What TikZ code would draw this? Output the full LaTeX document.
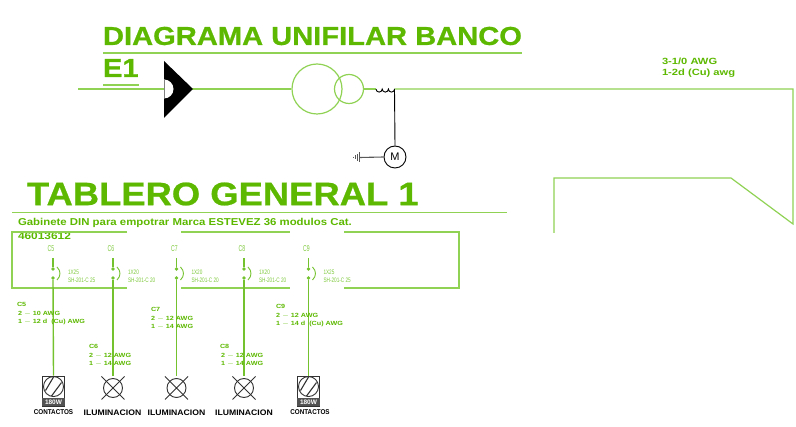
\documentclass[tikz,border=0pt]{standalone}
\usepackage{fontspec}
\setmainfont{Liberation Sans}
\newfontfamily\heavy{Liberation Sans}[BoldFeatures={FakeBold=0.7}]
\usepackage{graphicx}
\usetikzlibrary{calc}
\definecolor{txtgreen}{HTML}{5CB800}
\definecolor{linegreen}{HTML}{8FD254}
\definecolor{wiregreen}{HTML}{74C22E}
\definecolor{thingreen}{HTML}{7CC83A}
\definecolor{symgray}{HTML}{333333}
\newcommand{\fs}[1]{\fontsize{#1}{#1}\selectfont}
\newcommand{\narrow}[2]{\scalebox{#1}[1]{#2}}
\tikzset{
  x=1pt,y=-1pt,
  txt/.style={inner sep=0pt,outer sep=0pt,anchor=west,text=txtgreen,font=\bfseries},
  thin label/.style={inner sep=0pt,outer sep=0pt,anchor=west,text=thingreen,font=\fs{6.5}},
  rule/.style={draw=linegreen,line width=1.2pt},
  wire/.style={draw=wiregreen,line width=1.4pt},
  brk/.style={circle,fill=wiregreen,inner sep=0pt,minimum size=3.6pt},
  lamp/.style={circle,draw=symgray,line width=0.9pt,minimum size=19pt,inner sep=0pt,fill=white},
  caption/.style={inner sep=0pt,text=black,font=\bfseries},
  outlet/.style={draw=symgray,line width=0.9pt,fill=white,inner sep=0pt,minimum width=22pt,minimum height=30pt},
  note/.style={txt,font=\bfseries\fs{6}},
}
\newcommand{\lampx}[1]{\draw[symgray,line width=0.8pt] ($(#1)+(-11.5,-11.5)$) -- ($(#1)+(11.5,11.5)$) ($(#1)+(-11.5,11.5)$) -- ($(#1)+(11.5,-11.5)$);}
\newcommand{\outletsym}[2]{%
  \node[outlet] (#1) at (#2) {};
  \fill[symgray!85] ($(#1.south west)+(0,-8)$) rectangle (#1.south east);
  \node[inner sep=0pt,text=white,font=\bfseries\fs{6.5}] (#1w) at ($(#1.south)+(0,-4)$) {180W};
  \node[circle,draw=symgray,line width=0.9pt,minimum size=20pt,inner sep=0pt] (#1c) at ($(#1.north)+(0,11)$) {};
  \draw[symgray,line width=1.1pt] ($(#1c)+(-8,4)$) -- ($(#1c)+(0,-9.5)$) ($(#1c)+(-2,9.5)$) -- ($(#1c)+(8,-4)$);
}
\newcommand{\notetxt}[1]{\narrow{1.2}{#1}}
\begin{document}
\begin{tikzpicture}
\useasboundingbox (0,0) rectangle (796,427);
% titles
\node[txt,font=\heavy\bfseries\fs{26}] (title) at (103,36) {\narrow{1.12}{DIAGRAMA UNIFILAR BANCO}};
\coordinate (titleL) at (103,53); \coordinate (titleR) at (522,53);
\draw[rule] (titleL) -- (titleR);
\node[txt,font=\heavy\bfseries\fs{26}] (e1) at (103,68) {\narrow{1.12}{E1}};
\coordinate (e1L) at (103,85); \coordinate (e1R) at (139,85);
\draw[rule] (e1L) -- (e1R);
% top feeder
\coordinate (feedL) at (78,89);
\node[circle,draw=linegreen,line width=1.2pt,minimum size=50pt,inner sep=0pt] (tr1) at (317,89) {};
\node[circle,draw=linegreen,line width=1.2pt,minimum size=29pt,inner sep=0pt] (tr2) at (349,89) {};
\coordinate (coilL) at (376,89); \coordinate (coilR) at (394.5,89);
\coordinate (p1) at (793,89); \coordinate (p2) at (793,224); \coordinate (p3) at (731,178); \coordinate (p4) at (554,178); \coordinate (p5) at (554,233);
\draw[rule] (feedL) -- (tr1.west);
\draw[rule] (tr2.east) -- (coilL);
\draw[rule] (coilR) -- (p1) -- (p2) -- (p3) -- (p4) -- (p5);
% black fuse symbol
\fill[black] (164,61) -- (193,89) -- (164,118) -- cycle;
\fill[white] (164,79.5) arc (-90:90:9.5) -- cycle;
\draw[gray,line width=0.5pt] (164,79.5) -- (164,98.5);
% coil
\draw[black,line width=0.9pt] (coilL) arc (180:0:3.1) arc (180:0:3.1) arc (180:0:3.1);
% motor
\node[circle,draw=black,line width=0.9pt,minimum size=22pt,inner sep=0pt,font=\fs{11}] (motor) at (395,157) {M};
\draw[black,line width=0.9pt] (coilR) -- (motor.north);
\coordinate (gnd) at (360,157.5);
\draw[gray!70!black,line width=1.1pt] (motor.west) -- (gnd);
\draw[gray!70!black,line width=0.9pt] (359,152.5) -- (359,162.5) (357,154) -- (357,161) (355,155.5) -- (355,159.5) (353.5,157) -- (353.5,158);
% feeder text
\node[txt,font=\bfseries\fs{9}] (feedA) at (662,61) {\narrow{1.24}{3-1/0 AWG}};
\node[txt,font=\bfseries\fs{9}] (feedB) at (662,73) {\narrow{1.24}{1-2d (Cu) awg}};
% tablero
\node[txt,font=\heavy\bfseries\fs{32.5}] (tablero) at (27,194) {\narrow{1.12}{TABLERO GENERAL 1}};
\coordinate (tabL) at (12,212.5); \coordinate (tabR) at (507,212.5);
\draw[rule] (tabL) -- (tabR);
\node[txt,font=\bfseries\fs{10}] (gab) at (18,223) {\narrow{1.14}{Gabinete DIN para empotrar Marca ESTEVEZ 36 modulos Cat.}};
\node[txt,font=\bfseries\fs{10}] (gab2) at (18,236) {\narrow{1.19}{46013612}};
% cabinet outline
\coordinate (b1) at (127,232); \coordinate (b2) at (12,232); \coordinate (b3) at (12,288); \coordinate (b4) at (127,288);
\coordinate (b5) at (181,232); \coordinate (b6) at (290,232); \coordinate (b7) at (181,288); \coordinate (b8) at (290,288);
\coordinate (b9) at (344,232); \coordinate (b10) at (459,232); \coordinate (b11) at (459,288); \coordinate (b12) at (344,288);
\draw[rule] (b1) -- (b2) -- (b3) -- (b4);
\draw[rule] (b5) -- (b6) (b7) -- (b8);
\draw[rule] (b9) -- (b10) -- (b11) -- (b12);
% breakers + loads
\foreach \n/\X/\lab/\am in {a/53/C5/25,b/113/C6/20,c/176.5/C7/20,d/244/C8/20,e/308.5/C9/25}{
  \coordinate (\n t) at (\X,258);
  \node[brk] (\n u) at (\X,269) {};
  \node[brk] (\n d) at (\X,278) {};
  \draw[wire] (\n t) -- (\n u);
  \draw[draw=wiregreen,line width=0.9pt] (\X+4,267) .. controls (\X+8,271) and (\X+8,276) .. (\X+4,280);
  \node[text=thingreen,inner sep=0pt,font=\fs{8.5}] (\n name) at (\X-2,249) {\narrow{0.6}{\lab}};
  \node[thin label] (\n p) at (\X+15,272) {\narrow{0.72}{1X\am}};
  \node[thin label] (\n q) at (\X+15,280) {\narrow{0.72}{SH-201-C \am}};
}
\node[lamp] (lb) at (113,388) {}; \lampx{lb}
\node[lamp] (lc) at (176.5,388) {}; \lampx{lc}
\node[lamp] (ld) at (244,388) {}; \lampx{ld}
\outletsym{la}{53.5,391}
\outletsym{le}{308.5,391}
\draw[wire] (ad) -- (la.north);
\draw[wire] (bd) -- (113,376.5);
\draw[wire] (cd) -- (176.5,376.5);
\draw[wire] (dd) -- (244,376.5);
\draw[wire] (ed) -- (le.north);
% captions
\node[caption,font=\bfseries\fs{7}] (ca) at (53.5,412) {\narrow{0.9}{CONTACTOS}};
\node[caption,font=\bfseries\fs{8}] (cb) at (112.5,413) {\narrow{1.08}{ILUMINACION}};
\node[caption,font=\bfseries\fs{8}] (cc) at (176.5,413) {\narrow{1.08}{ILUMINACION}};
\node[caption,font=\bfseries\fs{8}] (cd2) at (244,412.5) {\narrow{1.08}{ILUMINACION}};
\node[caption,font=\bfseries\fs{7}] (ce) at (310,412) {\narrow{0.9}{CONTACTOS}};
% wire notes
\node[note] (n1) at (17,304) {\notetxt{C5}};
\node[note] (n2) at (18,314) {\notetxt{2 $-$ 10 AWG}};
\node[note] (n3) at (18,322) {\notetxt{1 $-$ 12 d\ \ (Cu) AWG}};
\node[note] (n4) at (89,346) {\notetxt{C6}};
\node[note] (n5) at (89,356) {\notetxt{2 $-$ 12 AWG}};
\node[note] (n6) at (89,364) {\notetxt{1 $-$ 14 AWG}};
\node[note] (n7) at (151,309) {\notetxt{C7}};
\node[note] (n8) at (151,319) {\notetxt{2 $-$ 12 AWG}};
\node[note] (n9) at (151,327) {\notetxt{1 $-$ 14 AWG}};
\node[note] (n10) at (220,346) {\notetxt{C8}};
\node[note] (n11) at (221,356) {\notetxt{2 $-$ 12 AWG}};
\node[note] (n12) at (221,364) {\notetxt{1 $-$ 14 AWG}};
\node[note] (n13) at (276,306) {\notetxt{C9}};
\node[note] (n14) at (276,316) {\notetxt{2 $-$ 12 AWG}};
\node[note] (n15) at (276,324) {\notetxt{1 $-$ 14 d\ \ (Cu) AWG}};
\end{tikzpicture}
\end{document}
